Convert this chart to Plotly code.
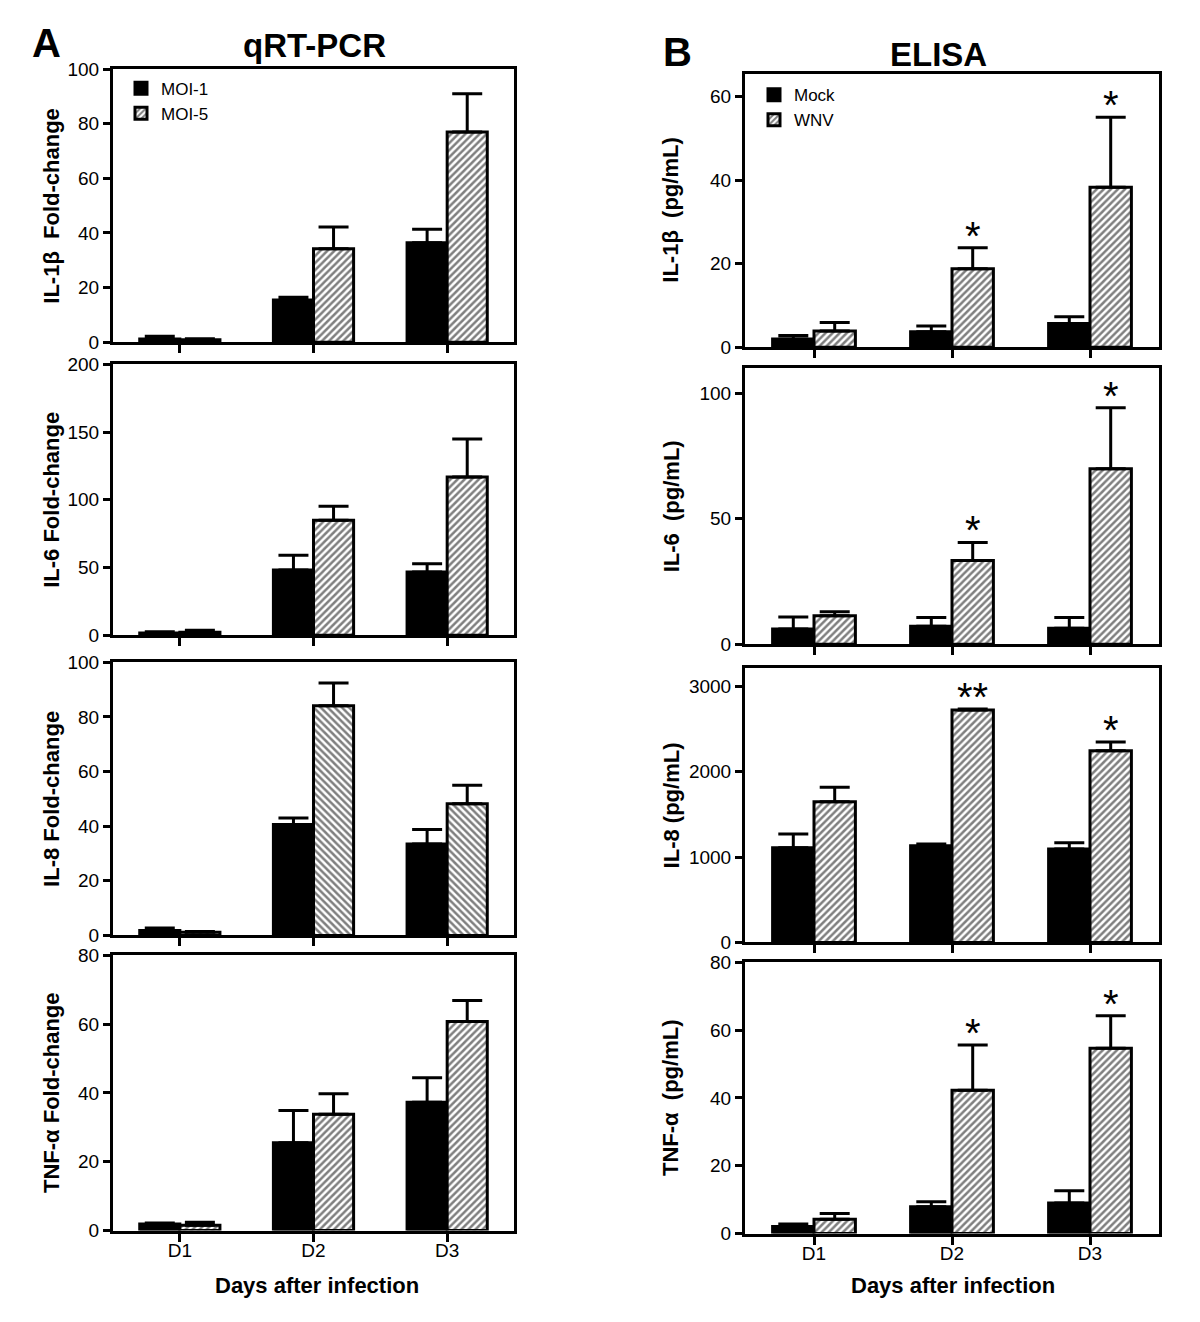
import plotly.graph_objects as go

# ---------------- data ----------------
days = ["D1", "D2", "D3"]

# Panel A: qRT-PCR (fold-change)
a_series = ["MOI-1", "MOI-5"]
a_il1b_moi1 = [1.2, 15.5, 36.4]
a_il1b_moi1_err = [1.0, 1.0, 5.0]
a_il1b_moi5 = [0.9, 34.2, 77.0]
a_il1b_moi5_err = [0.4, 8.0, 14.0]

a_il6_moi1 = [1.7, 48.2, 46.7]
a_il6_moi1_err = [1.0, 10.8, 6.2]
a_il6_moi5 = [2.2, 84.9, 116.8]
a_il6_moi5_err = [1.5, 10.3, 28.1]

a_il8_moi1 = [1.8, 40.6, 33.5]
a_il8_moi1_err = [0.9, 2.4, 5.3]
a_il8_moi5 = [1.2, 84.1, 48.2]
a_il8_moi5_err = [0.2, 8.3, 6.8]

a_tnf_moi1 = [1.9, 25.5, 37.3]
a_tnf_moi1_err = [0.3, 9.4, 7.1]
a_tnf_moi5 = [1.5, 33.8, 60.8]
a_tnf_moi5_err = [0.9, 6.0, 6.1]

# Panel B: ELISA (pg/mL)
b_series = ["Mock", "WNV"]
b_il1b_mock = [2.0, 3.7, 5.7]
b_il1b_mock_err = [0.8, 1.4, 1.6]
b_il1b_wnv = [3.9, 18.8, 38.3]
b_il1b_wnv_err = [2.0, 5.0, 16.8]
b_il1b_sig = ["", "*", "*"]

b_il6_mock = [6.1, 7.2, 6.4]
b_il6_mock_err = [4.8, 3.5, 4.3]
b_il6_wnv = [11.4, 33.4, 70.0]
b_il6_wnv_err = [1.6, 7.2, 24.3]
b_il6_sig = ["", "*", "*"]

b_il8_mock = [1110, 1133, 1094]
b_il8_mock_err = [160, 19, 74]
b_il8_wnv = [1648, 2723, 2246]
b_il8_wnv_err = [168, 11, 102]
b_il8_sig = ["", "**", "*"]

b_tnf_mock = [2.1, 7.9, 9.0]
b_tnf_mock_err = [0.7, 1.5, 3.6]
b_tnf_wnv = [4.2, 42.3, 54.7]
b_tnf_wnv_err = [1.7, 13.3, 9.6]
b_tnf_sig = ["", "*", "*"]

a_titles = ["IL-1β  Fold-change", "IL-6 Fold-change", "IL-8 Fold-change", "TNF-α Fold-change"]
b_titles = ["IL-1β  (pg/mL)", "IL-6  (pg/mL)", "IL-8 (pg/mL)", "TNF-α  (pg/mL)"]
a_ticks = [[0, 20, 40, 60, 80, 100], [0, 50, 100, 150, 200], [0, 20, 40, 60, 80, 100], [0, 20, 40, 60, 80]]
b_ticks = [[0, 20, 40, 60], [0, 50, 100], [0, 1000, 2000, 3000], [0, 20, 40, 60, 80]]
a_ranges = [[0, 100], [0, 200], [0, 100], [0, 80]]
b_ranges = [[0, 65.4], [0, 110], [0, 3210], [0, 80]]
a_hatch = ["/", "/", "\\", "/"]

# ---------------- layout geometry ----------------
PAGE_MARGIN = 8
W, H = 1200 - 2 * PAGE_MARGIN, 1322 - 2 * PAGE_MARGIN
FONT = "Liberation Sans, Arial, Helvetica, sans-serif"
BARGAP = 0.4
# vertical calibration of the photographed page (observed: shown = 10 + 0.9836 * page)
V_OFF, V_SCALE = 10.0, 0.9836


def fx(px):
    return (px - PAGE_MARGIN) / W


def fy(px):
    page = (px - V_OFF) / V_SCALE
    return 1 - (page - PAGE_MARGIN) / H


a_x = [fx(113), fx(514)]
b_x = [fx(745), fx(1159)]
a_y_px = [(69, 342), (364, 635), (662, 935), (955, 1230)]
b_y_px = [(74, 347), (368, 644), (668, 942), (962, 1233)]


def dom(px):
    return [fy(px[1]), fy(px[0])]


fig = go.Figure()

panels = [
    (1, a_series, a_il1b_moi1, a_il1b_moi1_err, a_il1b_moi5, a_il1b_moi5_err, None),
    (2, a_series, a_il6_moi1, a_il6_moi1_err, a_il6_moi5, a_il6_moi5_err, None),
    (3, a_series, a_il8_moi1, a_il8_moi1_err, a_il8_moi5, a_il8_moi5_err, None),
    (4, a_series, a_tnf_moi1, a_tnf_moi1_err, a_tnf_moi5, a_tnf_moi5_err, None),
    (5, b_series, b_il1b_mock, b_il1b_mock_err, b_il1b_wnv, b_il1b_wnv_err, b_il1b_sig),
    (6, b_series, b_il6_mock, b_il6_mock_err, b_il6_wnv, b_il6_wnv_err, b_il6_sig),
    (7, b_series, b_il8_mock, b_il8_mock_err, b_il8_wnv, b_il8_wnv_err, b_il8_sig),
    (8, b_series, b_tnf_mock, b_tnf_mock_err, b_tnf_wnv, b_tnf_wnv_err, b_tnf_sig),
]

annotations = []
for idx, names, v1, e1, v2, e2, sig in panels:
    xa = "x" if idx == 1 else f"x{idx}"
    ya = "y" if idx == 1 else f"y{idx}"
    is_a = idx <= 4
    row = (idx - 1) % 4
    hatch = a_hatch[row] if is_a else "/"
    legend_name = "legend" if is_a else "legend2"
    show = row == 0
    err_common = dict(type="data", symmetric=False, color="black", thickness=3, width=15)
    fig.add_trace(go.Bar(
        x=days, y=v1, name=names[0], xaxis=xa, yaxis=ya,
        marker=dict(color="black", line=dict(color="black", width=3)),
        error_y=dict(array=e1, arrayminus=[0] * len(e1), **err_common),
        showlegend=show, legend=legend_name, legendgroup=legend_name + names[0],
    ))
    fig.add_trace(go.Bar(
        x=days, y=v2, name=names[1], xaxis=xa, yaxis=ya,
        marker=dict(color="white", line=dict(color="black", width=3),
                    pattern=dict(shape=hatch, fgcolor="black", bgcolor="white",
                                 size=5, solidity=0.5)),
        error_y=dict(array=e2, arrayminus=[0] * len(e2), **err_common),
        showlegend=show, legend=legend_name, legendgroup=legend_name + names[1],
    ))
    if sig:
        off = (1 - BARGAP) / 4
        for i, s in enumerate(sig):
            if s:
                annotations.append(dict(
                    x=i + off, y=v2[i] + e2[i], xref=xa, yref=ya, text=s,
                    showarrow=False, yanchor="middle", yshift=12,
                    font=dict(family=FONT, size=40, color="black")))

    xdomain = a_x if is_a else b_x
    ypx = a_y_px[row] if is_a else b_y_px[row]
    bottom = row == 3
    xkey = "xaxis" if idx == 1 else f"xaxis{idx}"
    ykey = "yaxis" if idx == 1 else f"yaxis{idx}"
    fig.update_layout(**{
        xkey: dict(domain=xdomain, anchor=ya, type="category", range=[-0.5, 2.5],
                   showline=True, linewidth=3, linecolor="black", mirror=True,
                   ticks="outside", ticklen=8, tickwidth=2.5, tickcolor="black",
                   showticklabels=bottom, showgrid=False, zeroline=False,
                   ticklabelstandoff=-7,
                   tickfont=dict(family=FONT, size=19, color="black")),
        ykey: dict(domain=dom(ypx), anchor=xa,
                   range=(a_ranges if is_a else b_ranges)[row],
                   tickvals=(a_ticks if is_a else b_ticks)[row],
                   showline=True, linewidth=3, linecolor="black", mirror=True,
                   ticks="outside", ticklen=7, tickwidth=2.5, tickcolor="black",
                   showgrid=False, zeroline=False,
                   tickfont=dict(family=FONT, size=19, color="black")),
    })
    title = (a_titles if is_a else b_titles)[row]
    annotations.append(dict(
        x=fx(52 if is_a else 671), y=(dom(ypx)[0] + dom(ypx)[1]) / 2,
        xref="paper", yref="paper", text=f"<b>{title}</b>", textangle=-90,
        showarrow=False, xanchor="center", yanchor="middle",
        font=dict(family=FONT, size=22, color="black")))

for txt, xp, yp, sz in [("A", 46, 43, 40), ("qRT-PCR", 315, 45, 33),
                        ("B", 677, 51.5, 40), ("ELISA", 938, 54, 33),
                        ("Days after infection", 317, 1285, 22),
                        ("Days after infection", 953, 1285, 22)]:
    annotations.append(dict(
        x=fx(xp), y=fy(yp), xref="paper", yref="paper", text=f"<b>{txt}</b>",
        showarrow=False, xanchor="center", yanchor="middle",
        font=dict(family=FONT, size=sz, color="black")))

fig.update_layout(
    width=W, height=H, margin=dict(l=0, r=0, t=0, b=0),
    paper_bgcolor="white", plot_bgcolor="white",
    barmode="group", bargap=BARGAP, bargroupgap=0,
    font=dict(family=FONT, color="black"),
    annotations=annotations,
    legend=dict(x=fx(121), y=fy(70.5), xanchor="left", yanchor="top",
                bgcolor="rgba(0,0,0,0)", font=dict(family=FONT, size=17),
                itemwidth=30, tracegroupgap=0),
    legend2=dict(x=fx(754), y=fy(77), xanchor="left", yanchor="top",
                 bgcolor="rgba(0,0,0,0)", font=dict(family=FONT, size=17),
                 itemwidth=30, tracegroupgap=0),
)

fig.write_html("out.html", config={"displayModeBar": False})
